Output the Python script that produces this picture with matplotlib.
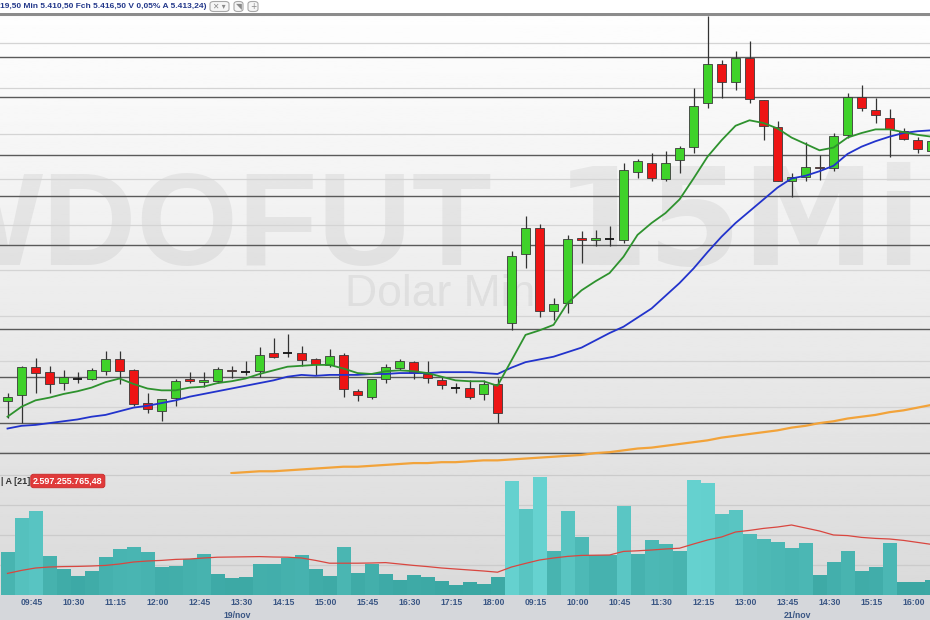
import numpy as np
import matplotlib.pyplot as plt
from matplotlib.patches import Rectangle, FancyBboxPatch
from matplotlib.transforms import blended_transform_factory
from matplotlib.colors import LinearSegmentedColormap

# 15-min candles WDOFUT, 19/nov (09:30 .. 18:15) and 21/nov (09:00 ..)
opens = [5390.6, 5391.3, 5394.4, 5393.8, 5392.6, 5393.1, 5393.1, 5393.9, 5395.3, 5394.0,
         5390.4, 5389.5, 5391.0, 5393.0, 5392.7, 5392.8, 5394.0, 5393.8, 5393.9, 5395.9,
         5395.9, 5395.9, 5395.3, 5394.6, 5395.7, 5391.7, 5391.1, 5393.1, 5394.3, 5394.9,
         5393.6, 5392.9, 5392.1, 5392.1, 5391.4, 5392.5, 5399.2, 5406.8, 5409.7, 5400.5,
         5401.4, 5408.6, 5408.3, 5408.4, 5408.3, 5415.8, 5416.8, 5415.0, 5417.1, 5418.6,
         5423.4, 5427.7, 5425.7, 5428.3, 5423.7, 5420.8, 5414.8, 5415.3, 5416.4, 5416.2,
         5419.9, 5424.1, 5422.6, 5421.8, 5420.3, 5419.3, 5418.1]
highs = [5391.5, 5394.5, 5395.4, 5394.5, 5394.0, 5393.8, 5394.3, 5396.1, 5396.1, 5394.2,
         5391.5, 5390.9, 5393.1, 5393.8, 5393.8, 5394.4, 5394.5, 5395.0, 5396.6, 5397.6,
         5398.0, 5396.7, 5395.4, 5396.3, 5395.9, 5392.0, 5393.1, 5394.7, 5395.3, 5395.0,
         5395.0, 5393.3, 5392.6, 5392.9, 5392.9, 5393.2, 5407.1, 5411.0, 5410.1, 5402.0,
         5408.9, 5409.3, 5409.4, 5409.9, 5416.8, 5417.2, 5417.9, 5418.1, 5418.7, 5425.0,
         5433.0, 5428.1, 5429.1, 5430.2, 5423.7, 5421.4, 5415.7, 5419.1, 5417.7, 5420.1,
         5424.5, 5425.4, 5423.9, 5422.7, 5420.6, 5419.7, 5419.4]
lows = [5388.8, 5388.2, 5391.5, 5391.5, 5391.8, 5392.6, 5392.9, 5393.5, 5392.5, 5390.1,
        5389.3, 5388.4, 5390.1, 5392.6, 5392.2, 5392.6, 5393.2, 5393.5, 5393.3, 5395.4,
        5395.5, 5394.5, 5393.5, 5394.4, 5391.1, 5390.6, 5390.9, 5392.6, 5394.0, 5393.1,
        5392.6, 5391.9, 5391.5, 5390.9, 5390.7, 5388.2, 5398.4, 5405.3, 5399.9, 5399.5,
        5400.3, 5405.8, 5407.7, 5407.7, 5408.0, 5415.1, 5414.8, 5414.8, 5415.7, 5417.9,
        5422.9, 5424.0, 5424.8, 5423.4, 5419.3, 5414.8, 5413.1, 5414.8, 5414.9, 5415.9,
        5419.6, 5422.5, 5421.2, 5417.5, 5419.3, 5417.9, 5417.9]
closes = [5391.1, 5394.4, 5393.7, 5392.5, 5393.3, 5393.1, 5394.0, 5395.3, 5393.9, 5390.3,
          5389.7, 5390.8, 5392.8, 5392.8, 5392.9, 5394.2, 5393.9, 5393.8, 5395.7, 5395.5,
          5395.9, 5395.1, 5394.7, 5395.6, 5391.9, 5391.3, 5393.0, 5394.4, 5395.0, 5393.7,
          5393.2, 5392.4, 5392.1, 5391.1, 5392.5, 5389.3, 5406.6, 5409.7, 5400.5, 5401.3,
          5408.4, 5408.3, 5408.6, 5408.4, 5416.0, 5417.0, 5415.2, 5416.8, 5418.5, 5423.1,
          5427.7, 5425.7, 5428.3, 5423.8, 5420.9, 5414.8, 5415.3, 5416.4, 5416.2, 5419.8,
          5424.1, 5422.8, 5422.1, 5420.5, 5419.4, 5418.3, 5419.2]

# moving averages
ma_fast = [5388.9, 5390.0, 5390.7, 5391.0, 5391.4, 5391.7, 5392.1, 5392.7, 5393.1, 5392.5,
           5392.0, 5391.8, 5391.8, 5392.1, 5392.2, 5392.6, 5392.8, 5393.1, 5393.6, 5394.0,
           5394.4, 5394.5, 5394.6, 5394.6, 5394.2, 5393.7, 5393.6, 5393.9, 5394.0, 5393.9,
           5393.7, 5393.3, 5392.9, 5392.8, 5392.8, 5392.3, 5395.1, 5397.9, 5398.4, 5399.0,
           5401.4, 5402.8, 5403.8, 5404.7, 5406.5, 5408.9, 5410.2, 5411.3, 5412.8, 5415.1,
           5417.5, 5419.3, 5420.9, 5421.5, 5421.2, 5420.6, 5419.6, 5418.9, 5418.2, 5418.5,
           5419.6, 5420.1, 5420.5, 5420.5, 5420.2, 5419.9, 5419.7]
ma_slow = [5387.6, 5387.9, 5388.0, 5388.2, 5388.4, 5388.6, 5388.9, 5389.1, 5389.5, 5389.9,
           5390.1, 5390.4, 5390.7, 5391.1, 5391.4, 5391.7, 5392.0, 5392.3, 5392.6, 5392.9,
           5393.3, 5393.5, 5393.4, 5393.5, 5393.5, 5393.5, 5393.6, 5393.6, 5393.7, 5393.7,
           5393.7, 5393.8, 5393.8, 5393.8, 5393.7, 5393.6, 5394.3, 5394.9, 5395.2, 5395.5,
           5396.0, 5396.5, 5397.3, 5398.1, 5398.8, 5399.8, 5400.8, 5402.2, 5403.6, 5405.2,
           5407.0, 5408.7, 5410.2, 5411.5, 5412.8, 5414.1, 5415.1, 5415.4, 5415.9, 5416.5,
           5417.8, 5418.6, 5419.2, 5419.7, 5420.1, 5420.3, 5420.4]
ma_long = [np.nan] * 16 + [
    5382.7, 5382.8, 5382.9, 5382.9, 5383.0, 5383.1, 5383.2, 5383.3, 5383.4, 5383.4,
    5383.5, 5383.6, 5383.7, 5383.8, 5383.8, 5383.9, 5383.9, 5384.0, 5384.1, 5384.1,
    5384.2, 5384.3, 5384.4, 5384.5, 5384.6, 5384.7, 5384.9, 5385.0, 5385.2, 5385.4,
    5385.5, 5385.7, 5385.9, 5386.1, 5386.3, 5386.6, 5386.8, 5387.0, 5387.2, 5387.4,
    5387.7, 5387.9, 5388.2, 5388.4, 5388.7, 5388.9, 5389.1, 5389.4, 5389.6, 5389.9,
    5390.2]

# financial volume (R$ billions) and its 21-period average
volume = [2.17, 3.83, 4.20, 1.95, 1.28, 0.93, 1.22, 1.88, 2.28, 2.38,
          2.15, 1.42, 1.47, 1.82, 2.07, 1.03, 0.85, 0.92, 1.57, 1.53,
          1.83, 2.00, 1.28, 0.97, 2.40, 1.12, 1.57, 1.03, 0.75, 1.00,
          0.90, 0.68, 0.52, 0.63, 0.57, 0.90, 5.72, 4.28, 5.90, 2.20,
          4.18, 2.88, 1.98, 1.98, 4.45, 2.03, 2.73, 2.53, 2.20, 5.75,
          5.62, 4.05, 4.25, 3.05, 2.78, 2.63, 2.37, 2.58, 1.00, 1.63,
          2.20, 1.22, 1.40, 2.62, 0.67, 0.67, 0.75]
vol_ma = [1.08, 1.23, 1.35, 1.40, 1.42, 1.43, 1.45, 1.48, 1.55, 1.65,
          1.70, 1.73, 1.78, 1.80, 1.85, 1.89, 1.90, 1.91, 1.92, 1.90,
          1.89, 1.85, 1.73, 1.59, 1.59, 1.59, 1.60, 1.62, 1.55, 1.48,
          1.42, 1.35, 1.30, 1.25, 1.20, 1.14, 1.40, 1.58, 1.75, 1.85,
          1.93, 1.98, 1.99, 2.00, 2.18, 2.21, 2.25, 2.30, 2.34, 2.55,
          2.75, 2.90, 3.15, 3.23, 3.33, 3.40, 3.50, 3.35, 3.20, 3.00,
          2.97, 2.88, 2.83, 2.80, 2.73, 2.63, 2.53]

# drawn support / resistance lines and price grid
levels = [5428.5, 5424.1, 5417.7, 5413.2, 5407.8, 5398.5, 5393.3, 5388.2, 5384.9]
grid_prices = [5385, 5390, 5395, 5400, 5405, 5410, 5415, 5420, 5425, 5430]
vol_grid = [1.5, 3.0, 4.5, 6.0]

tick_idx = [1, 4, 7, 10, 13, 16, 19, 22, 25, 28, 31, 34, 37, 40, 43, 46, 49, 52, 55, 58, 61, 64]
tick_labels = ['09:45', '10:30', '11:15', '12:00', '12:45', '13:30', '14:15', '15:00',
               '15:45', '16:30', '17:15', '18:00', '09:15', '10:00', '10:45', '11:30',
               '12:15', '13:00', '13:45', '14:30', '15:15', '16:00']
date_pos = [16.4, 56.4]
date_labels = ['19/nov', '21/nov']

header = '19,50 Min 5.410,50 Fch 5.416,50 V 0,05% A 5.413,24)'
vol_title = 'A [21]'
vol_value = '2.597.255.765,48'

W, H = 930, 620


def fy(py):
    return 1 - py / H


fig = plt.figure(figsize=(W / 100, H / 100), dpi=100)
fig.patch.set_facecolor('white')

ax = fig.add_axes([0, fy(474), 1, fy(13) - fy(474)])
axv = fig.add_axes([0, fy(595), 1, fy(474) - fy(595)])

xlim = (-0.536, 65.89)
ylim = (5382.6, 5433.3)
vlim = (0, 6.05)
xs = np.arange(len(opens))

for a in (ax, axv):
    a.set_xlim(*xlim)
    a.set_xticks([])
    a.set_yticks([])
    for s in a.spines.values():
        s.set_visible(False)
ax.set_ylim(*ylim)
axv.set_ylim(*vlim)

# backgrounds
ax.imshow(np.linspace(0.995, 0.885, 256)[:, None], extent=(xlim[0], xlim[1], ylim[0], ylim[1]),
          origin='upper', aspect='auto', cmap='gray', vmin=0, vmax=1, zorder=0)
axv.imshow(np.linspace(0.885, 0.855, 64)[:, None], extent=(xlim[0], xlim[1], vlim[0], vlim[1]),
           origin='upper', aspect='auto', cmap='gray', vmin=0, vmax=1, zorder=0)
fig.patches.append(Rectangle((0, 0), 1, fy(595), transform=fig.transFigure,
                             facecolor='#d5d7db', edgecolor='none', zorder=-1))

# watermark
wm = dict(transform=fig.transFigure, fontweight='bold', color='black', alpha=0.055,
          ha='left', va='baseline', zorder=0.5)
ax.text(-80 / W, fy(265), 'WDOFUT', fontsize=94, family='Liberation Sans', **wm)
ax.text(555 / W, fy(265), '15Min', fontsize=97, family='DejaVu Sans', **wm)
ax.text(345 / W, fy(306.5), 'Dolar Mini', transform=fig.transFigure, fontsize=32,
        family='Liberation Sans', color='black', alpha=0.06,
        ha='left', va='baseline', zorder=0.5)

for p in grid_prices:
    ax.axhline(p, color='#d4d4d4', lw=0.9, zorder=1)
for p in levels:
    ax.axhline(p, color='#5a5a5a', lw=1.0, zorder=1.5)
ax.axhline(5433.15, color='#8c8c8c', lw=2.2, zorder=1.5)

# candles
bw = 0.58
for i in range(len(opens)):
    o, h, l, c = opens[i], highs[i], lows[i], closes[i]
    ax.vlines(i, l, h, color='#333333', lw=0.9, zorder=3)
    if c == o:
        ax.hlines(o, i - bw / 2, i + bw / 2, color='#111111', lw=1.3, zorder=3.5)
        continue
    col = '#3fd22a' if c > o else '#ee1414'
    ax.add_patch(Rectangle((i - bw / 2, min(o, c)), bw, abs(c - o), facecolor=col,
                           edgecolor='#3a3a3a', lw=0.6, zorder=3.5))

ax.plot(xs, ma_long, color='#f2a33a', lw=1.6, zorder=4)
ax.plot(xs, ma_slow, color='#2233cc', lw=1.3, zorder=4)
ax.plot(xs, ma_fast, color='#2e922e', lw=1.3, zorder=4)

# volume
cmap = LinearSegmentedColormap.from_list('vol', ['#3aa6a2', '#66d2d0'])
vcols = [cmap(min(max((v - 0.5) / 5.4, 0), 1)) for v in volume]
for p in vol_grid:
    axv.axhline(p, color='#cbcbcb', lw=0.9, zorder=1)
axv.bar(xs, volume, width=1.0, color=vcols, edgecolor='none', zorder=2)
axv.plot(xs, vol_ma, color='#d9463f', lw=0.9, zorder=3)

# axis labels
tr = blended_transform_factory(axv.transData, fig.transFigure)
for i, lab in zip(tick_idx, tick_labels):
    axv.text(i - 0.05, fy(602.5), lab, transform=tr, ha='left', va='center', fontsize=6.2,
             family='Liberation Sans', fontweight='bold', color='#3a5684', clip_on=False)
for p, lab in zip(date_pos, date_labels):
    axv.text(p, fy(615), lab, transform=tr, ha='center', va='center', fontsize=6.2,
             family='Liberation Sans', fontweight='bold', color='#3a5684', clip_on=False)

# header line
ht = fig.text(0.0, fy(6.5), header, fontsize=7, family='Liberation Sans', fontweight='bold',
              color='#23388a', ha='left', va='center')
fig.canvas.draw()
ht.set_fontsize(7 * 205 / ht.get_window_extent().width)

for x0, x1, sym in [(210, 229, '✕ ▾'), (234, 243, '◥'), (248, 258, '+')]:
    fig.patches.append(FancyBboxPatch((x0 / W, fy(11.5)), (x1 - x0) / W, 10 / H,
                                      boxstyle='round,pad=0,rounding_size=0.004',
                                      transform=fig.transFigure, facecolor='#f6f6f6',
                                      edgecolor='#a8a8a8', lw=0.8))
    fig.text((x0 + x1) / 2 / W, fy(6.5), sym, fontsize=5.5, color='#8a8a8a',
             ha='center', va='center', family='DejaVu Sans')

# volume panel title
fig.text(1 / W, fy(481), '| ' + vol_title, fontsize=6.5, family='Liberation Sans',
         fontweight='bold', color='#333333', ha='left', va='center')
fig.text(33 / W, fy(481), vol_value, fontsize=6.5, family='Liberation Sans',
         fontweight='bold', color='white', ha='left', va='center',
         bbox=dict(boxstyle='round,pad=0.25,rounding_size=0.3', facecolor='#e03a3a',
                   edgecolor='#c82828', lw=0.6))

fig.savefig('out.png', dpi=100)
